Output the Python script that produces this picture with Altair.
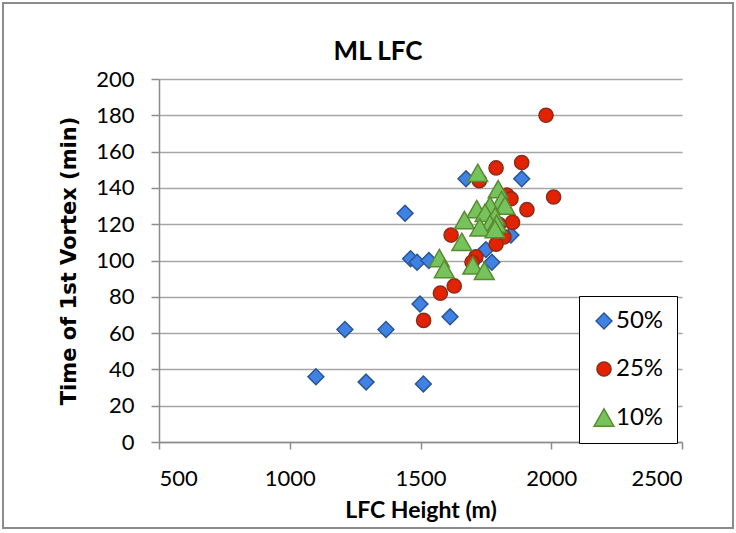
import altair as alt
import pandas as pd

# LFC height (m) and time of first vortex (min) for each threshold series
lfc_50 = [1100, 1211, 1292, 1368, 1511, 1498, 1613, 1441, 1462, 1487, 1532, 1674, 1887, 1750, 1773, 1846]
t_50 = [36, 62, 33, 62, 32, 76, 69, 126, 101, 99, 100, 145, 145, 106, 99, 114]

lfc_25 = [1980, 1887, 1789, 1725, 1831, 1846, 2009, 1907, 1852, 1617, 1819, 1789, 1800, 1712, 1697, 1629, 1576, 1512]
t_25 = [180, 154, 151, 144, 136, 134, 135, 128, 121, 114, 113, 109, 120, 102, 99, 86, 82, 67]

lfc_10 = [1719, 1797, 1810, 1823, 1766, 1715, 1747, 1668, 1785, 1766, 1791, 1727, 1785, 1658, 1572, 1591, 1700, 1744]
t_10 = [148, 139, 133, 130, 130, 128, 126, 122, 124, 120, 120, 118, 117, 110, 101, 95, 97, 94]

series = ["50%", "25%", "10%"]
fills = ["#3F82E4", "#E22200", "#76C35B"]
strokes = ["#2A5694", "#8A2D1E", "#5A8A33"]
shapes = [
    "M0,-1.12L1.12,0L0,1.12L-1.12,0Z",
    "circle",
    "M0,-1.3L1.4,1.15L-1.4,1.15Z",
]

rows = []
for name, xs, ys in zip(series, [lfc_50, lfc_25, lfc_10], [t_50, t_25, t_10]):
    for x, y in zip(xs, ys):
        rows.append({"LFC Height": x, "Time": y, "Series": name})
df = pd.DataFrame(rows)

legend = alt.Legend(
    title=None,
    orient="none",
    legendX=420,
    legendY=217,
    direction="vertical",
    labelFontSize=24,
    labelFont="Lato",
    labelColor="#000000",
    symbolSize=200,
    symbolStrokeWidth=1.5,
    rowPadding=24,
    padding=13,
    labelOffset=0,
    strokeColor="#000000",
    fillColor="#FFFFFF",
)

points = alt.Chart(df).mark_point(filled=True, size=200, strokeWidth=1.5, opacity=1).encode(
    x=alt.X(
        "LFC Height:Q",
        scale=alt.Scale(domain=[500, 2500], nice=False, zero=False),
        axis=alt.Axis(
            values=[500, 1000, 1500, 2000, 2500],
            format="d",
            title="LFC Height (m)",
            grid=False,
            tickSize=7,
            labelPadding=19,
            titleY=68,
            titleBaseline="middle",
            titleFontSize=23,
            titleFont="Lato",
            titleFontWeight="bold",
        ),
    ),
    y=alt.Y(
        "Time:Q",
        scale=alt.Scale(domain=[0, 200], nice=False),
        axis=alt.Axis(
            values=list(range(0, 201, 20)),
            format="d",
            title="Time of 1st Vortex (min)",
            grid=True,
            tickSize=8,
            labelPadding=17,
            titleX=-90,
            titleY=181.5,
            titleAngle=-90,
            titleAlign="center",
            titleBaseline="middle",
            titleFontSize=21,
            titleFont="DejaVu Sans",
            titleFontWeight="bold",
        ),
    ),
    fill=alt.Fill("Series:N", scale=alt.Scale(domain=series, range=fills), legend=legend),
    stroke=alt.Stroke("Series:N", scale=alt.Scale(domain=series, range=strokes), legend=legend),
    shape=alt.Shape("Series:N", scale=alt.Scale(domain=series, range=shapes), legend=legend),
)

deco = pd.DataFrame({"label": ["ML LFC"]})

# chart heading, placed above the plot area
heading = alt.Chart(deco).mark_text(
    font="Lato", fontSize=26, fontWeight="bold", color="#000000",
    align="center", baseline="alphabetic",
).encode(text="label:N", x=alt.value(219), y=alt.value(-19))

# thin grey frame around the whole chart
frame = alt.Chart(deco).mark_rect(
    fill=None, stroke="#8C8C8C", strokeWidth=2
).encode(
    x=alt.value(-156), x2=alt.value(574), y=alt.value(-76), y2=alt.value(449)
)

chart = alt.layer(points, heading, frame).properties(
    width=523,
    height=363,
    autosize=alt.AutoSizeParams(type="none"),
    padding={"left": 159, "top": 79, "right": 54, "bottom": 91},
    background="#FFFFFF",
).configure_view(stroke=None).configure_axis(
    labelFont="Lato",
    labelFontSize=22,
    labelColor="#000000",
    titleColor="#000000",
    domainColor="#8C8C8C",
    domainWidth=1.5,
    tickColor="#8C8C8C",
    tickWidth=1.5,
    gridColor="#A6A6A6",
    gridWidth=1.5,
)

chart.save("out.html", embed_options={"renderer": "svg", "actions": False})
